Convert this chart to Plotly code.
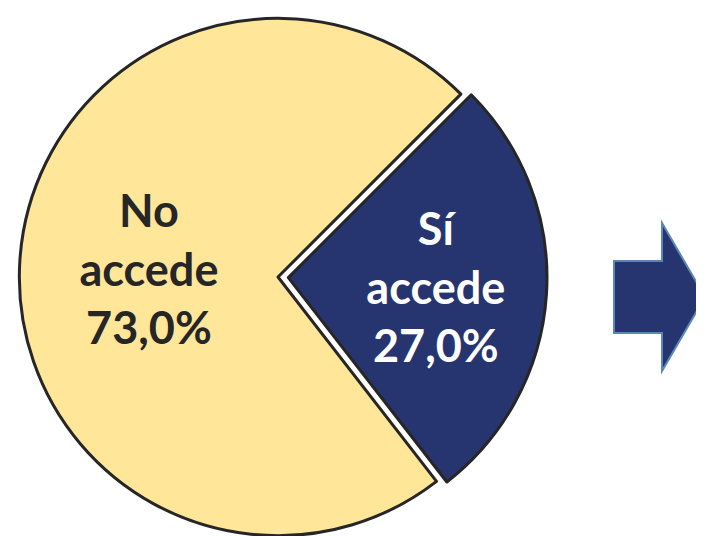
import plotly.graph_objects as go

categories = ["Sí<br>accede", "No<br>accede"]
values = [27.0, 73.0]
colors = ["#263570", "#FFE699"]
text_colors = ["#FFFFFF", "#262626"]

W, H = 704, 560
OFF = 8  # page body margin offset

fig = go.Figure()
fig.add_trace(go.Pie(
    labels=categories,
    values=values,
    sort=False,
    direction="clockwise",
    rotation=45,
    pull=[0.04, 0],
    marker=dict(colors=colors, line=dict(color="#262626", width=3)),
    texttemplate="<b>%{label}<br>%{percent:.1%}</b>",
    textposition="inside",
    insidetextorientation="horizontal",
    insidetextfont=dict(family="Lato", size=45, color=text_colors),
    hoverinfo="skip",
    showlegend=False,
    domain=dict(x=[1 / W, 539 / W], y=[1 - 538 / H, 1]),
))

# decorative arrow on the right (page pixel coords -> paper)
pts = [(614, 261), (662, 261), (662, 223), (705, 297), (662, 371), (662, 333), (614, 333)]
path = "M " + " L ".join(f"{(x - OFF) / W:.5f},{1 - (y - OFF) / H:.5f}" for x, y in pts) + " Z"
fig.add_shape(type="path", path=path, xref="paper", yref="paper",
              fillcolor="#263570", line=dict(color="#5B86B5", width=2))

fig.update_layout(
    width=W, height=H,
    margin=dict(l=0, r=0, t=0, b=0),
    paper_bgcolor="white",
    plot_bgcolor="white",
    separators=",.",
)

fig.write_html("out.html")
